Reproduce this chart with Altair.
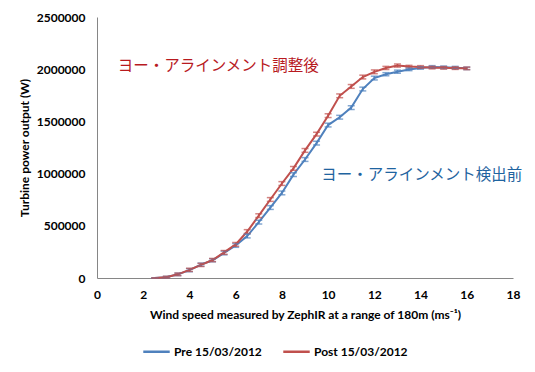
import altair as alt
import pandas as pd

wind = [2.5, 3.0, 3.5, 4.0, 4.5, 5.0, 5.5, 6.0, 6.5, 7.0, 7.5, 8.0, 8.5, 9.0,
        9.5, 10.0, 10.5, 11.0, 11.5, 12.0, 12.5, 13.0, 13.5, 14.0, 14.5, 15.0, 15.5, 16.0]
pre = [0, 8000, 35000, 75000, 128000, 170000, 240000, 312000, 402000, 535000,
       675000, 815000, 990000, 1135000, 1292000, 1465000, 1540000, 1632000,
       1810000, 1915000, 1952000, 1976000, 1998000, 2012000, 2022000, 2018000,
       2015000, 2008000]
post = [0, 8000, 35000, 78000, 125000, 172000, 245000, 322000, 445000, 597000,
        752000, 905000, 1050000, 1222000, 1378000, 1555000, 1745000, 1835000,
        1925000, 1975000, 2012000, 2035000, 2025000, 2022000, 2015000, 2013000,
        2010000, 2008000]
err_pre = [0, 8000, 12000, 15000, 15000, 15000, 18000, 18000, 18000, 18000,
           18000, 18000, 18000, 18000, 18000, 18000, 18000, 18000, 18000, 18000,
           15000, 15000, 12000, 12000, 12000, 12000, 12000, 12000]
err_post = [0, 8000, 12000, 15000, 15000, 15000, 18000, 18000, 18000, 18000,
            18000, 18000, 18000, 18000, 18000, 18000, 18000, 18000, 18000, 18000,
            15000, 15000, 12000, 12000, 12000, 12000, 12000, 12000]
series_names = ["Pre 15/03/2012", "Post 15/03/2012"]
series_colors = ["#4F81BD", "#C0504D"]

ann_text = ["ヨー・アラインメント調整後", "ヨー・アラインメント検出前"]
ann_x = [0.9, 9.7]
ann_y = [2030000, 985000]
ann_color = ["#B81A1F", "#1F64A0"]

rows = []
for name, vals, errs in [(series_names[0], pre, err_pre), (series_names[1], post, err_post)]:
    for w, v, e in zip(wind, vals, errs):
        rows.append({"wind": w, "power": v, "series": name, "lo": v - e, "hi": v + e})
df = pd.DataFrame(rows)
ann = pd.DataFrame({"text": ann_text, "x": ann_x, "y": ann_y, "c": ann_color})

FONT = "Lato"
xs = alt.Scale(domain=[0, 18], nice=False, zero=False)
ys = alt.Scale(domain=[0, 2500000], nice=False)
color = alt.Color("series:N", scale=alt.Scale(domain=series_names, range=series_colors),
                  legend=alt.Legend(title=None, orient="none", legendX=45, legendY=320,
                                    direction="horizontal", symbolType="stroke",
                                    symbolSize=700, symbolStrokeWidth=2.5,
                                    labelFont=FONT, labelFontWeight="bold", labelFontSize=12,
                                    labelColor="#000000", columnPadding=16, labelOffset=3))

base = alt.Chart(df)
line = base.mark_line(strokeWidth=2).encode(
    x=alt.X("wind:Q", scale=xs,
            axis=alt.Axis(title="Wind speed measured by ZephIR at a range of 180m (ms⁻¹)",
                          values=[0, 2, 4, 6, 8, 10, 12, 14, 16, 18], grid=False, ticks=False,
                          tickSize=0, labelPadding=11, titlePadding=9, labelFlush=False,
                          domainColor="#868686", labelFont=FONT, titleFont=FONT,
                          labelFontSize=12, titleFontSize=12, labelFontWeight="bold",
                          titleFontWeight="bold", labelColor="#000", titleColor="#000")),
    y=alt.Y("power:Q", scale=ys,
            axis=alt.Axis(title="Turbine power output (W)",
                          values=[0, 500000, 1000000, 1500000, 2000000, 2500000],
                          format="d", grid=False, ticks=False, tickSize=0, labelPadding=12,
                          titlePadding=5, labelFlush=False, domainColor="#868686",
                          labelFont=FONT, titleFont=FONT, labelFontSize=12, titleFontSize=12,
                          labelFontWeight="bold", titleFontWeight="bold",
                          labelColor="#000", titleColor="#000")),
    color=color,
)
rule = base.mark_rule(strokeWidth=1.5).encode(
    x="wind:Q", y="lo:Q", y2="hi:Q", color=alt.Color("series:N", legend=None))
cap_lo = base.mark_tick(orient="horizontal", size=7, thickness=1.5).encode(
    x="wind:Q", y="lo:Q", color=alt.Color("series:N", legend=None))
cap_hi = base.mark_tick(orient="horizontal", size=7, thickness=1.5).encode(
    x="wind:Q", y="hi:Q", color=alt.Color("series:N", legend=None))

texts = alt.Chart(ann).mark_text(align="left", baseline="middle", fontSize=15.5,
                                 font="Noto Sans CJK JP").encode(
    x="x:Q", y="y:Q", text="text:N", color=alt.Color("c:N", scale=None, legend=None))

chart = alt.layer(line, rule, cap_lo, cap_hi, texts).properties(
    width=416, height=261,
    autosize=alt.AutoSizeParams(type="none"),
    padding={"left": 89, "top": 9, "right": 14, "bottom": 88},
).configure_view(stroke=None)

chart.save("out.html", embed_options={"renderer": "svg", "actions": False})
